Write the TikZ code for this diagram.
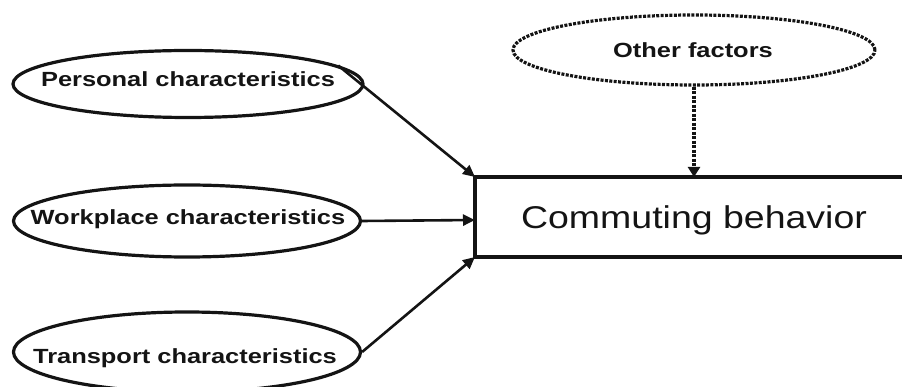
\documentclass[tikz,border=0pt]{standalone}
\usepackage{fontspec}
\setmainfont{Liberation Sans}
\usetikzlibrary{shapes.geometric,arrows.meta}
\colorlet{ink}{black!92}
\tikzset{
  oval/.style={draw=ink, line width=3.2pt, ellipse, inner sep=0pt},
  dotoval/.style={draw=ink, line width=3.2pt, ellipse, inner sep=0pt, dash pattern=on 3pt off 1.4pt},
  btext/.style={font=\fontsize{20.5}{24}\selectfont\bfseries, text=ink, inner sep=0pt},
  arr/.style={draw=ink, line width=2.6pt, -{Triangle[length=12pt,width=11pt]}},
  dotarr/.style={draw=ink, line width=4.5pt, dash pattern=on 3pt off 1.5pt, -{Triangle[length=10pt,width=12pt]}},
  cbox/.style={draw=ink, line width=3.2pt, rectangle, inner sep=0pt}
}
\newcommand{\sx}[1]{\scalebox{1.24}[1]{#1}}
\begin{document}
\begin{tikzpicture}[x=1pt,y=-1pt]
\useasboundingbox (0,0) rectangle (902,387);
\clip (0,0) rectangle (902,387);
% ellipses
\node[oval, minimum width=350pt, minimum height=67pt] (pc) at (188,84) {};
\node[btext, anchor=base] (pct) at (188,87) {\sx{Personal characteristics}};
\node[oval, minimum width=347pt, minimum height=72pt] (wc) at (187,221) {};
\node[btext, anchor=base] (wct) at (188,225) {\sx{Workplace characteristics}};
\node[oval, minimum width=347pt, minimum height=80pt] (tc) at (187,352) {};
\node[btext, anchor=base] (tct) at (185,363) {\sx{Transport characteristics}};
\node[dotoval, minimum width=362pt, minimum height=70pt] (of) at (694,50) {};
\node[btext, anchor=base] (oft) at (693,58) {\sx{Other factors}};
% box
\node[cbox, minimum width=440pt, minimum height=80pt] (cb) at (695,217) {};
\node[font=\fontsize{31.5}{36}\selectfont, text=ink, anchor=base, inner sep=0pt] (cbt) at (694,229) {\scalebox{1.19}[1]{Commuting behavior}};
\coordinate (cbnw) at (475,177);
\coordinate (cbw) at (475,220);
\coordinate (cbsw) at (475,257);
% arrows
\draw[arr] (pc.7) -- (cbnw);
\draw[arr] (wc.east) -- (cbw);
\draw[arr] (tc.east) -- (cbsw);
\draw[dotarr] (of.south) -- (of.south |- cbnw);
\end{tikzpicture}
\end{document}
